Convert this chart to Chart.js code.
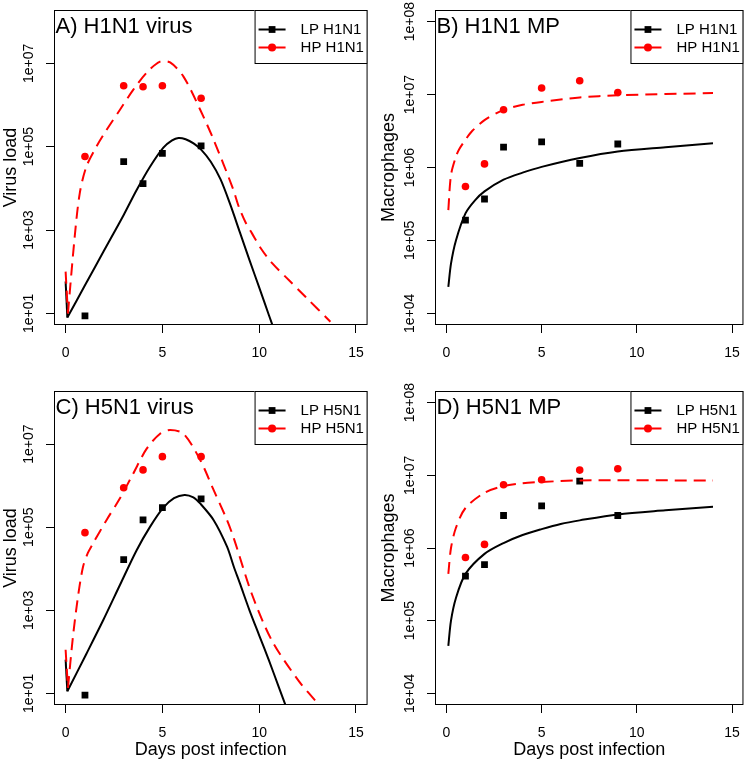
<!DOCTYPE html>
<html>
<head>
<meta charset="utf-8">
<script src="https://cdn.jsdelivr.net/npm/chart.js@4.4.1/dist/chart.umd.min.js"></script>
<style>
  html, body { margin: 0; padding: 0; background: #fff; }
  #wrap { position: relative; width: 752px; height: 762px; }
  #wrap canvas { position: absolute; }
</style>
</head>
<body>
<div id="wrap">
  <canvas id="panelA" width="376" height="381" style="left:0;top:0"></canvas>
  <canvas id="panelB" width="376" height="381" style="left:376px;top:0"></canvas>
  <canvas id="panelC" width="376" height="381" style="left:0;top:381px"></canvas>
  <canvas id="panelD" width="376" height="381" style="left:376px;top:381px"></canvas>
</div>
<script>
// Axis ticks
const dayTicks = [0, 5, 10, 15];
const virusTicks = [1e1, 1e3, 1e5, 1e7];
const mpTicks = [1e4, 1e5, 1e6, 1e7, 1e8];

// Observed data (days post infection)
const virusDays = [1, 3, 4, 5, 7];
const mpDays = [1, 2, 3, 5, 7, 9];

const lpH1N1Virus = [8.7, 4.4e4, 1.3e4, 6.9e4, 1.05e5];
const hpH1N1Virus = [5.8e4, 2.9e6, 2.75e6, 2.9e6, 1.45e6];
const lpH5N1Virus = [9.1, 1.66e4, 1.5e5, 2.95e5, 4.8e5];
const hpH5N1Virus = [7.4e4, 8.9e5, 2.4e6, 5.0e6, 5.0e6];

const lpH1N1Mp = [1.9e5, 3.7e5, 1.9e6, 2.25e6, 1.14e6, 2.1e6];
const hpH1N1Mp = [5.5e5, 1.12e6, 6.2e6, 1.23e7, 1.55e7, 1.07e7];
const lpH5N1Mp = [4.1e5, 5.9e5, 2.8e6, 3.8e6, 8.3e6, 2.8e6];
const hpH5N1Mp = [7.4e5, 1.12e6, 7.4e6, 8.7e6, 1.18e7, 1.23e7];

// Model fits; virus fits start with a drop to the day-0 dip
const fitDaysLpH1N1Virus = [0, 0.09, 1, 2, 3, 3.67, 4.36, 5.05, 5.5, 5.83, 6.2, 6.61, 7, 7.5, 8, 8.5, 9, 9.5, 10, 10.5, 10.8];
const fitLpH1N1Virus = [58, 7.9, 47, 330, 2300, 9100, 33000, 95000, 141000, 162000, 151000, 120000, 85000, 43600, 16600, 4170, 890, 190, 42, 9.1, 3.7];
const fitDaysHpH1N1Virus = [0, 0.12, 0.47, 0.73, 1.07, 1.59, 2.11, 2.8, 3.49, 4.19, 4.88, 5.4, 6.09, 6.96, 7.65, 8.64, 8.95, 9.3, 9.63, 10.1, 10.67, 11.53, 12.39, 13.68];
const fitHpH1N1Virus = [100, 10, 690, 7600, 33000, 1.0e5, 2.5e5, 7.6e5, 2.3e6, 6.0e6, 1.1e7, 1.05e7, 4.8e6, 7.6e5, 1.45e5, 1.0e4, 3600, 1510, 830, 355, 160, 63, 25, 6.3];

const fitDaysLpH1N1Mp = [0.1, 0.24, 0.5, 1, 1.5, 2, 3, 4, 5, 7, 9, 11.5, 14];
const fitLpH1N1Mp = [2.3e4, 4.8e4, 1.0e5, 2.35e5, 3.55e5, 4.7e5, 6.8e5, 8.5e5, 1.02e6, 1.35e6, 1.66e6, 1.9e6, 2.15e6];
const fitDaysHpH1N1Mp = [0.1, 0.24, 0.5, 0.67, 1, 1.35, 2, 3, 4, 5, 7, 9, 14];
const fitHpH1N1Mp = [2.6e5, 7.9e5, 1.41e6, 1.78e6, 2.4e6, 3.16e6, 4.47e6, 6.17e6, 7.24e6, 7.94e6, 9.12e6, 9.77e6, 1.05e7];

const fitDaysLpH5N1Virus = [0, 0.09, 1.07, 1.94, 2.8, 3.67, 4.36, 5.05, 5.6, 6.14, 6.6, 6.96, 7.65, 8.34, 8.69, 9, 9.5, 10, 10.5, 11, 11.45];
const fitLpH5N1Virus = [65, 11.2, 89, 575, 4000, 28000, 1.02e5, 2.95e5, 5.0e5, 6.0e5, 5.25e5, 3.7e5, 1.48e5, 3.4e4, 1.12e4, 4500, 1000, 250, 63, 14.8, 4.0];
const fitDaysHpH5N1Virus = [0, 0.12, 0.38, 0.64, 0.9, 1.15, 1.42, 2.11, 2.8, 3.49, 4.19, 4.88, 5.4, 6.09, 6.96, 7.65, 8.34, 8.69, 9.63, 10.67, 12.04, 12.99];
const fitHpH5N1Virus = [112, 13.5, 234, 2140, 11200, 24000, 41000, 1.48e5, 4.9e5, 1.95e6, 7.8e6, 1.78e7, 2.19e7, 1.78e7, 4.1e6, 7.8e5, 1.48e5, 5.4e4, 2400, 182, 20, 6.0];

const fitDaysLpH5N1Mp = [0.1, 0.24, 0.5, 1, 2, 3, 4, 5, 6, 7, 9, 11.5, 14];
const fitLpH5N1Mp = [4.5e4, 1.0e5, 2.05e5, 4.4e5, 8.3e5, 1.17e6, 1.51e6, 1.82e6, 2.14e6, 2.4e6, 2.9e6, 3.3e6, 3.7e6];
const fitDaysHpH5N1Mp = [0.1, 0.24, 0.5, 1, 2, 3, 4, 5, 7, 14];
const fitHpH5N1Mp = [4.4e5, 1.0e6, 1.9e6, 3.55e6, 5.75e6, 7.1e6, 7.8e6, 8.1e6, 8.5e6, 8.5e6];

const FONT = '"Liberation Sans", Arial, Helvetica, sans-serif';
const RED = '#ff0000';
const DASH = [12, 7];

const pts = (xs, ys) => xs.map((x, i) => ({ x: x, y: ys[i] }));
const sci = v => '1e+' + String(Math.round(Math.log10(v))).padStart(2, '0');

// fit curve -> one or two line datasets (straight drop at day 0, then smooth curve)
function fitSets(xs, ys, color, dash, drop) {
    const base = { showLine: true, borderColor: color, borderWidth: 2, borderDash: dash, pointRadius: 0 };
    if (!drop) return [Object.assign({ data: pts(xs, ys), tension: 0.3 }, base)];
    return [
        Object.assign({ data: pts(xs.slice(0, 2), ys.slice(0, 2)), tension: 0 }, base),
        Object.assign({ data: pts(xs.slice(1), ys.slice(1)), tension: 0.3 }, base)
    ];
}

// Box, panel title and legend drawn the R way
const rStyle = {
    id: 'rStyle',
    afterDatasetsDraw(chart, args, opts) {
        const { ctx, chartArea: a } = chart;
        ctx.save();
        ctx.strokeStyle = '#000';
        ctx.lineWidth = 1;
        ctx.setLineDash([]);
        ctx.strokeRect(a.left + 0.5, a.top + 0.5, a.right - a.left - 1, a.bottom - a.top - 1);

        ctx.fillStyle = '#000';
        ctx.font = '22px ' + FONT;
        ctx.textBaseline = 'alphabetic';
        ctx.textAlign = 'left';
        ctx.fillText(opts.title, a.left + 1.5, a.top + 22.7);

        // legend
        const w = 113, h = 54;
        const L = a.right - w, T = a.top;
        ctx.fillStyle = '#fff';
        ctx.fillRect(L, T, w, h);
        ctx.strokeRect(L + 0.5, T + 0.5, w - 1, h - 1);
        ctx.font = '15px ' + FONT;
        ctx.textBaseline = 'middle';
        opts.items.forEach((it, i) => {
            const y = T + 19.5 + 18 * i;
            ctx.strokeStyle = it.color;
            ctx.lineWidth = 2;
            ctx.beginPath();
            ctx.moveTo(L + 4, y);
            ctx.lineTo(L + 31, y);
            ctx.stroke();
            ctx.fillStyle = it.color;
            if (it.marker === 'rect') {
                ctx.fillRect(L + 17.5 - 3.4, y - 3.4, 6.8, 6.8);
            } else {
                ctx.beginPath();
                ctx.arc(L + 17.5, y, 4, 0, Math.PI * 2);
                ctx.fill();
            }
            ctx.fillStyle = '#000';
            ctx.fillText(it.label, L + 46, y + 0.5);
        });
        ctx.restore();
    }
};

function buildPanel(id, p) {
    const ctx = document.getElementById(id).getContext('2d');
    const datasets = [].concat(
        fitSets(p.hpFit[0], p.hpFit[1], RED, DASH, p.drop),
        fitSets(p.lpFit[0], p.lpFit[1], '#000', [], p.drop),
        [{
            label: p.names[1],
            data: pts(p.hpObs[0], p.hpObs[1]),
            pointStyle: 'circle',
            pointRadius: 3.8,
            pointBackgroundColor: RED,
            pointBorderWidth: 0
        }, {
            label: p.names[0],
            data: pts(p.lpObs[0], p.lpObs[1]),
            pointStyle: 'rect',
            pointRadius: 4.8,
            pointBackgroundColor: '#000',
            pointBorderWidth: 0
        }]
    );
    return new Chart(ctx, {
        type: 'scatter',
        data: { datasets: datasets },
        options: {
            responsive: false,
            animation: false,
            devicePixelRatio: 1,
            layout: { padding: { top: 10, right: p.padRight, left: 0, bottom: 0 } },
            scales: {
                x: {
                    type: 'linear',
                    min: -0.6,
                    max: 15.6,
                    afterBuildTicks: s => { s.ticks = dayTicks.map(v => ({ value: v })); },
                    afterFit: s => { s.height = p.xHeight; },
                    border: { display: false },
                    grid: { drawOnChartArea: false, drawTicks: true, tickLength: 8, color: '#000' },
                    ticks: { color: '#000', padding: 12, maxRotation: 0, font: { family: FONT, size: 14 } },
                    title: {
                        display: p.xTitle,
                        text: 'Days post infection',
                        color: '#000',
                        padding: { top: 0, bottom: 1.5 },
                        font: { family: FONT, size: 18 }
                    }
                },
                y: {
                    type: 'logarithmic',
                    min: p.yRange[0],
                    max: p.yRange[1],
                    afterBuildTicks: s => { s.ticks = p.yTicks.map(v => ({ value: v })); },
                    afterFit: s => { s.width = p.yWidth; },
                    border: { display: false },
                    grid: { drawOnChartArea: false, drawTicks: true, tickLength: 8, color: '#000' },
                    ticks: {
                        color: '#000',
                        minRotation: 90,
                        maxRotation: 90,
                        crossAlign: 'center',
                        padding: -2.7,
                        font: { family: FONT, size: 14 },
                        callback: v => sci(v)
                    },
                    title: {
                        display: true,
                        text: p.yTitle,
                        color: '#000',
                        padding: { top: p.yTitlePad, bottom: 0 },
                        font: { family: FONT, size: 18 }
                    }
                }
            },
            plugins: {
                legend: { display: false },
                tooltip: { enabled: false },
                rStyle: {
                    title: p.title,
                    items: [
                        { label: p.names[0], color: '#000', marker: 'rect' },
                        { label: p.names[1], color: RED, marker: 'circle' }
                    ]
                }
            }
        },
        plugins: [rStyle]
    });
}

buildPanel('panelA', {
    title: 'A) H1N1 virus', yTitle: 'Virus load', xTitle: false, drop: true,
    yTicks: virusTicks, yRange: [Math.pow(10, 0.72), Math.pow(10, 8.28)],
    names: ['LP H1N1', 'HP H1N1'],
    lpFit: [fitDaysLpH1N1Virus, fitLpH1N1Virus], hpFit: [fitDaysHpH1N1Virus, fitHpH1N1Virus],
    lpObs: [virusDays, lpH1N1Virus], hpObs: [virusDays, hpH1N1Virus],
    yWidth: 54, padRight: 7, xHeight: 56, yTitlePad: 0
});
buildPanel('panelB', {
    title: 'B) H1N1 MP', yTitle: 'Macrophages', xTitle: false, drop: false,
    yTicks: mpTicks, yRange: [Math.pow(10, 3.84), Math.pow(10, 8.16)],
    names: ['LP H1N1', 'HP H1N1'],
    lpFit: [fitDaysLpH1N1Mp, fitLpH1N1Mp], hpFit: [fitDaysHpH1N1Mp, fitHpH1N1Mp],
    lpObs: [mpDays, lpH1N1Mp], hpObs: [mpDays, hpH1N1Mp],
    yWidth: 59, padRight: 3, xHeight: 56, yTitlePad: 2.5
});
buildPanel('panelC', {
    title: 'C) H5N1 virus', yTitle: 'Virus load', xTitle: true, drop: true,
    yTicks: virusTicks, yRange: [Math.pow(10, 0.72), Math.pow(10, 8.28)],
    names: ['LP H5N1', 'HP H5N1'],
    lpFit: [fitDaysLpH5N1Virus, fitLpH5N1Virus], hpFit: [fitDaysHpH5N1Virus, fitHpH5N1Virus],
    lpObs: [virusDays, lpH5N1Virus], hpObs: [virusDays, hpH5N1Virus],
    yWidth: 54, padRight: 7, xHeight: 57, yTitlePad: 0
});
buildPanel('panelD', {
    title: 'D) H5N1 MP', yTitle: 'Macrophages', xTitle: true, drop: false,
    yTicks: mpTicks, yRange: [Math.pow(10, 3.84), Math.pow(10, 8.16)],
    names: ['LP H5N1', 'HP H5N1'],
    lpFit: [fitDaysLpH5N1Mp, fitLpH5N1Mp], hpFit: [fitDaysHpH5N1Mp, fitHpH5N1Mp],
    lpObs: [mpDays, lpH5N1Mp], hpObs: [mpDays, hpH5N1Mp],
    yWidth: 59, padRight: 3, xHeight: 57, yTitlePad: 2.5
});
</script>
</body>
</html>
